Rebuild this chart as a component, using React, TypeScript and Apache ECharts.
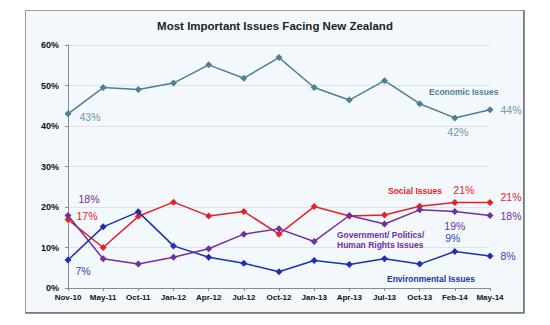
import React, { useEffect, useRef } from "react";
import * as echarts from "echarts";

const categories = ["Nov-10", "May-11", "Oct-11", "Jan-12", "Apr-12", "Jul-12", "Oct-12", "Jan-13", "Apr-13", "Jul-13", "Oct-13", "Feb-14", "May-14"];
const economic = [43, 49.5, 49, 50.6, 55.1, 51.8, 56.9, 49.5, 46.4, 51.2, 45.5, 42, 44];
const social = [16.9, 10, 17.7, 21.2, 17.8, 18.9, 13.3, 20.1, 17.8, 18, 20.2, 21.1, 21.1];
const government = [17.9, 7.2, 5.9, 7.6, 9.7, 13.3, 14.6, 11.5, 17.9, 15.8, 19.3, 18.9, 17.9];
const environmental = [6.9, 15.1, 18.8, 10.4, 7.6, 6.1, 4.0, 6.8, 5.8, 7.2, 5.9, 9.0, 7.9];
const yTicks = [0, 10, 20, 30, 40, 50, 60];

const FONT = "'Liberation Sans', Arial, sans-serif";

type LabelSpec = { idx: number; position: string; distance: number; offset: [number, number] };

function withLabels(values: number[], color: string, specs: LabelSpec[]) {
  return values.map((v, i) => {
    const s = specs.find((x) => x.idx === i);
    if (!s) return v;
    return {
      value: v,
      label: {
        show: true,
        position: s.position,
        distance: s.distance,
        offset: s.offset,
        formatter: (p: any) => Math.round(p.value) + "%",
        color,
        fontSize: 10.5,
        fontFamily: FONT,
      },
    };
  });
}

export default function App() {
  const ref = useRef<HTMLDivElement>(null);
  useEffect(() => {
    if (!ref.current) return;
    const chart = echarts.init(ref.current, undefined, { renderer: "svg" });
    const mkSeries = (name: string, data: any[], color: string) => ({
      name,
      type: "line",
      data,
      symbol: "diamond",
      symbolSize: 7,
      lineStyle: { color, width: 1.5 },
      itemStyle: { color },
      z: 3,
    });
    chart.setOption({
      animation: false,
      backgroundColor: "#ffffff",
      title: {
        text: "Most Important Issues Facing New Zealand",
        left: "center",
        top: 15,
        textStyle: { fontSize: 11.5, fontWeight: "bold", color: "#222", fontFamily: FONT },
      },
      grid: { left: 68, right: 60, top: 45, bottom: 37 },
      xAxis: {
        type: "category",
        data: categories,
        boundaryGap: false,
        axisLine: { lineStyle: { color: "#8a8a8a", width: 1 } },
        axisTick: { show: true, length: 3, lineStyle: { color: "#8a8a8a" } },
        axisLabel: { color: "#111", fontSize: 8, fontWeight: "bold", fontFamily: FONT, margin: 5, interval: 0 },
        splitLine: { show: false },
      },
      yAxis: {
        type: "value",
        min: yTicks[0],
        max: yTicks[yTicks.length - 1],
        interval: 10,
        axisLine: { show: true, lineStyle: { color: "#8a8a8a", width: 1 } },
        axisTick: { show: true, length: 3, lineStyle: { color: "#8a8a8a" } },
        axisLabel: { color: "#111", fontSize: 9, fontWeight: "bold", fontFamily: FONT, margin: 9, formatter: "{value}%" },
        splitLine: { show: true, lineStyle: { color: "#dfe4e8", width: 1 } },
      },
      graphic: [
        {
          type: "rect",
          z: -10,
          silent: true,
          shape: { x: 25.5, y: 10.5, width: 498, height: 302 },
          style: { fill: "#f3f8fc", stroke: "#9a9a9a", lineWidth: 1 },
        },
        {
          type: "polyline",
          z: -9,
          silent: true,
          shape: { points: [[524, 10], [524, 313], [25, 313]] },
          style: { stroke: "#6f6f6f", lineWidth: 1.5, fill: "none" },
        },
        {
          type: "text",
          z: 100,
          left: 429,
          top: 87,
          style: { text: "Economic Issues", fill: "#4f7f92", font: `bold 8.5px ${FONT}` },
        },
        {
          type: "text",
          z: 100,
          left: 388,
          top: 186,
          style: { text: "Social Issues", fill: "#e8202a", font: `bold 8.5px ${FONT}` },
        },
        {
          type: "text",
          z: 100,
          left: 337,
          top: 230,
          style: { text: "Government/ Politics/\nHuman Rights Issues", fill: "#7030a0", font: `bold 8.5px ${FONT}`, lineHeight: 10 },
        },
        {
          type: "text",
          z: 100,
          left: 387,
          top: 274,
          style: { text: "Environmental Issues", fill: "#2232b0", font: `bold 8.5px ${FONT}` },
        },
      ],
      series: [
        mkSeries(
          "Economic Issues",
          withLabels(economic, "#6f95a5", [
            { idx: 0, position: "right", distance: 8, offset: [0, 3] },
            { idx: 11, position: "bottom", distance: 5, offset: [3, 0] },
            { idx: 12, position: "right", distance: 7, offset: [0, 0] },
          ]),
          "#4f7f92"
        ),
        mkSeries(
          "Social Issues",
          withLabels(social, "#e8202a", [
            { idx: 0, position: "right", distance: 5, offset: [0, -4] },
            { idx: 11, position: "top", distance: 4, offset: [9, 0] },
            { idx: 12, position: "right", distance: 7, offset: [0, -6] },
          ]),
          "#e8202a"
        ),
        mkSeries(
          "Government/ Politics/ Human Rights Issues",
          withLabels(government, "#7030a0", [
            { idx: 0, position: "right", distance: 7, offset: [0, -17] },
            { idx: 11, position: "bottom", distance: 6, offset: [0, 0] },
            { idx: 12, position: "right", distance: 7, offset: [0, 0] },
          ]),
          "#7030a0"
        ),
        mkSeries(
          "Environmental Issues",
          withLabels(environmental, "#3444b8", [
            { idx: 0, position: "right", distance: 4, offset: [0, 11] },
            { idx: 11, position: "top", distance: 5, offset: [-2, 0] },
            { idx: 12, position: "right", distance: 7, offset: [0, 0] },
          ]),
          "#1f2fb0"
        ),
      ],
    });
    return () => chart.dispose();
  }, []);
  return <div ref={ref} style={{ position: "fixed", left: 0, top: 0, width: 550, height: 325 }} />;
}
